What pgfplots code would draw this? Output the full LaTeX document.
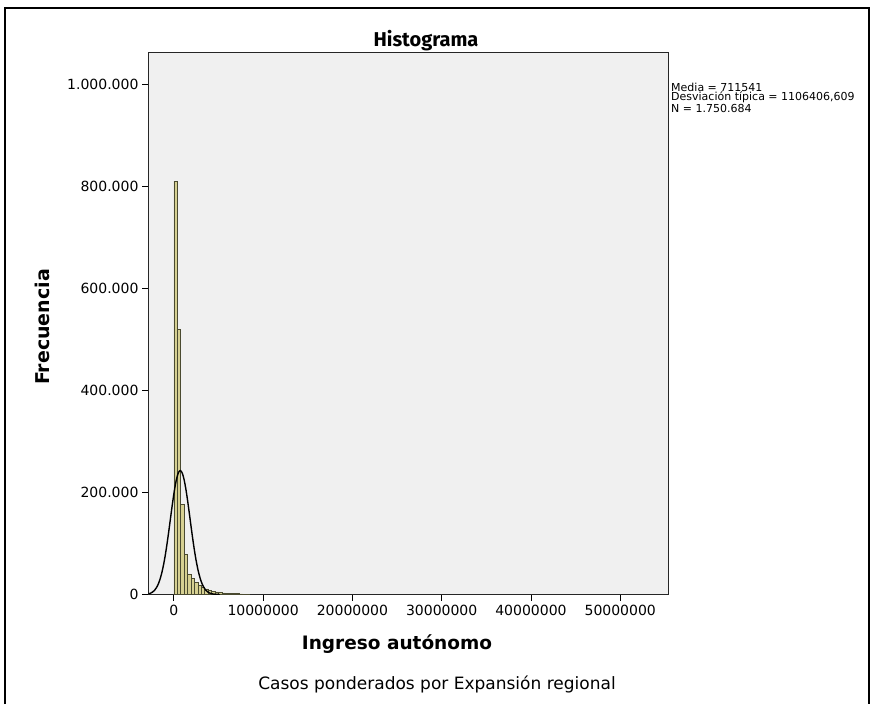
\documentclass[border=0pt]{standalone}
\usepackage{pgfplots}
\pgfplotsset{compat=1.18}
\usepackage{fontspec}
\setmainfont{DejaVu Sans}
\newfontfamily\titlefont{Fira Sans}
\definecolor{plotbg}{HTML}{F0F0F0}
\definecolor{barfill}{HTML}{D6D092}
\definecolor{baredge}{HTML}{4A4A30}

\begin{document}
\begin{tikzpicture}
\path[fill=white] (0,0) rectangle (872pt,-704pt);
\draw[line width=2.5pt] (5pt,-704pt) -- (5pt,-8pt) -- (869pt,-8pt) -- (869pt,-704pt);

\begin{axis}[
    at={(148pt,-594.5pt)}, anchor=south west,
    scale only axis,
    width=520pt, height=542.5pt,
    xmin=-2900000, xmax=55350000,
    ymin=0, ymax=1063300,
    axis background/.style={fill=plotbg},
    axis line style={black!85, line width=0.9pt},
    tick align=outside, tick pos=left,
    major tick length=6pt,
    tick style={black, line width=0.9pt},
    scaled ticks=false,
    xtick={0,10000000,20000000,30000000,40000000,50000000},
    xticklabels={0,10000000,20000000,30000000,40000000,50000000},
    ytick={0,200000,400000,600000,800000,1000000},
    yticklabels={0,200.000,400.000,600.000,800.000,1.000.000},
    ticklabel style={font=\fontsize{14}{14}\selectfont},
    xticklabel style={yshift=-1pt},
    clip=true,
]
% histogram bins (width 385000)
\addplot[ybar interval, fill=barfill, draw=baredge, line width=0.7pt] coordinates {
(0,810000) (385000,520000) (770000,176000) (1155000,78000)
(1540000,40000) (1925000,31000) (2310000,23000) (2695000,18000)
(3080000,14000) (3465000,11000) (3850000,8500) (4235000,6500)
(4620000,5000) (5005000,4000) (5390000,3200) (5775000,2600)
(6160000,2100) (6545000,1700) (6930000,1400) (7315000,1100)
(7700000,900) (8085000,700) (8470000,0)
};
% normal curve
\addplot[black, line width=1.4pt, smooth] coordinates {
(-2828961,1453) (-2607680,2700) (-2386399,4821) (-2165117,8274)
(-1943836,13640) (-1722555,21608) (-1501273,32888) (-1279992,48090)
(-1058710,67564) (-837429,91200) (-616147,118280) (-394866,147387)
(-173585,176454) (47697,202971) (268978,224318) (490260,238189)
(711541,243000) (932822,238189) (1154104,224318) (1375385,202971)
(1596667,176454) (1817948,147387) (2039229,118280) (2260511,91200)
(2481792,67564) (2703074,48090) (2924355,32888) (3145636,21608)
(3366918,13640) (3588199,8274) (3809481,4821) (4030762,2700)
(4252043,1453) (4473325,751) (4694606,372) (4915888,177) (5137169,81)
};
\end{axis}

\node[font=\titlefont\bfseries\fontsize{20}{20}\selectfont] at (426pt,-41pt) {Histograma};
\node[font=\bfseries\fontsize{19}{19}\selectfont, rotate=90] at (42pt,-327pt) {Frecuencia};
\node[font=\bfseries\fontsize{18.5}{18.5}\selectfont] at (397pt,-644pt) {Ingreso autónomo};
\node[font=\fontsize{17}{17}\selectfont] at (437pt,-684pt) {Casos ponderados por Expansión regional};
\node[font=\fontsize{11}{9.3}\selectfont, anchor=north west, align=left, inner sep=0pt] at (671pt,-83pt)
  {Media = 711541\\Desviación típica = 1106406,609\\N = 1.750.684};
\end{tikzpicture}
\end{document}
